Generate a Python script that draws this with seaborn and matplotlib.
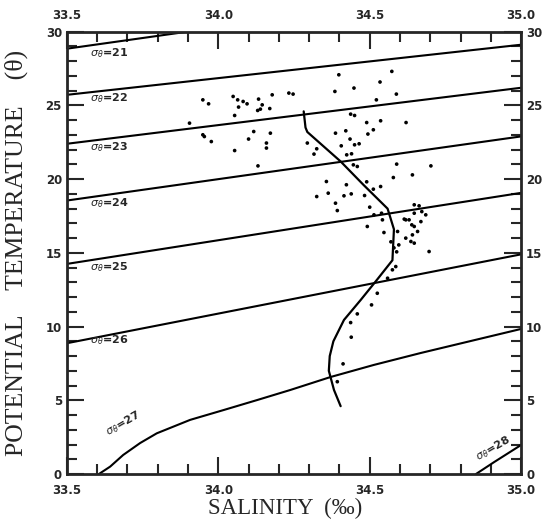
import numpy as np
import pandas as pd
import matplotlib
matplotlib.use("Agg")
import matplotlib.pyplot as plt
import seaborn as sns
from matplotlib.ticker import MultipleLocator

# isopycnals (salinity, potential temperature)
sig21_s = [33.5, 33.897]
sig21_t = [28.85, 30.0]
sig22_s = [33.5, 35.0]
sig22_t = [25.72, 29.12]
sig23_s = [33.5, 35.0]
sig23_t = [22.40, 26.20]
sig24_s = [33.5, 35.0]
sig24_t = [18.55, 22.90]
sig25_s = [33.5, 35.0]
sig25_t = [14.25, 19.07]
sig26_s = [33.5, 35.0]
sig26_t = [8.87, 14.90]
sig27_s = [33.606, 33.643, 33.686, 33.742, 33.797, 33.907, 34.018, 34.129,
           34.238, 34.371, 34.514, 34.669, 35.0]
sig27_t = [0.0, 0.50, 1.29, 2.10, 2.76, 3.67, 4.34, 5.02,
           5.70, 6.58, 7.40, 8.21, 9.84]
sig28_s = [34.851, 34.911, 35.0]
sig28_t = [0.0, 0.81, 1.97]

# mean profile
prof_s = [34.282, 34.288, 34.294, 34.404, 34.48, 34.559, 34.580, 34.575,
          34.525, 34.47, 34.415, 34.38, 34.368, 34.365, 34.382, 34.404]
prof_t = [24.6, 23.5, 23.2, 21.2, 19.6, 18.0, 16.6, 14.5,
          13.2, 11.8, 10.45, 9.0, 8.0, 7.0, 5.7, 4.6]

# station observations
obs_s = [34.398, 34.573, 34.534, 34.385, 34.448, 34.588, 34.522, 33.949, 33.968, 34.049,
         34.064, 34.082, 34.095, 34.067, 34.133, 34.145, 34.139, 34.130, 34.170, 34.178,
         34.233, 34.247, 34.054, 33.905, 33.949, 33.954, 33.977, 34.117, 34.100, 34.172,
         34.159, 34.159, 34.054, 34.131, 34.437, 34.450, 34.490, 34.536, 34.512, 34.620,
         34.387, 34.421, 34.435, 34.450, 34.465, 34.294, 34.325, 34.316, 34.424, 34.440,
         34.459, 34.589, 34.578, 34.536, 34.512, 34.490, 34.357, 34.423, 34.325, 34.363,
         34.415, 34.387, 34.393, 34.439, 34.483, 34.500, 34.539, 34.492, 34.547, 34.619,
         34.514, 34.542, 34.592, 34.570, 34.580, 34.589, 34.596, 34.575, 34.586, 34.559,
         34.647, 34.663, 34.647, 34.672, 34.685, 34.614, 34.630, 34.639, 34.647, 34.669,
         34.658, 34.641, 34.619, 34.636, 34.647, 34.696, 34.641, 34.702, 34.525, 34.506,
         34.459, 34.437, 34.439, 34.412, 34.393, 34.494, 34.406, 34.446]
obs_t = [27.08, 27.31, 26.59, 25.95, 26.18, 25.77, 25.38, 25.38, 25.11, 25.61,
         25.38, 25.27, 25.11, 24.89, 25.43, 25.04, 24.75, 24.66, 24.79, 25.72,
         25.84, 25.77, 24.32, 23.80, 23.01, 22.89, 22.55, 23.23, 22.72, 23.12,
         22.45, 22.11, 21.94, 20.90, 24.41, 24.32, 23.84, 23.96, 23.35, 23.84,
         23.12, 23.28, 22.72, 22.33, 22.40, 22.45, 22.06, 21.70, 21.65, 21.72,
         20.86, 21.02, 20.11, 19.50, 19.32, 19.82, 19.84, 19.62, 18.82, 19.05,
         18.87, 18.37, 17.87, 19.00, 18.89, 18.10, 17.69, 16.79, 16.38, 17.24,
         17.58, 17.24, 16.45, 15.75, 15.34, 15.07, 15.54, 13.85, 14.07, 13.28,
         18.26, 18.19, 17.69, 17.80, 17.58, 17.29, 17.24, 16.90, 16.79, 17.12,
         16.45, 16.22, 16.00, 15.77, 15.66, 15.09, 20.29, 20.90, 12.26, 11.47,
         10.86, 10.27, 9.28, 7.47, 6.26, 23.06, 22.26, 20.97]

sigma_names = [21, 22, 23, 24, 25, 26, 27, 28]
sigma_s = [sig21_s, sig22_s, sig23_s, sig24_s, sig25_s, sig26_s, sig27_s, sig28_s]
sigma_t = [sig21_t, sig22_t, sig23_t, sig24_t, sig25_t, sig26_t, sig27_t, sig28_t]

iso = pd.concat([pd.DataFrame({"S": s, "T": t, "sigma": n})
                 for n, s, t in zip(sigma_names, sigma_s, sigma_t)], ignore_index=True)
prof = pd.DataFrame({"S": prof_s, "T": prof_t})
obs = pd.DataFrame({"S": obs_s, "T": obs_t})

sns.set_style("ticks")
plt.rcParams["font.family"] = ["DejaVu Sans"]

fig = plt.figure(figsize=(5.48, 5.29), dpi=100)
ax = fig.add_axes([0.122, 0.104, 0.829, 0.836])

sns.lineplot(data=iso, x="S", y="T", units="sigma", estimator=None, sort=False,
             color="black", lw=1.5, ax=ax)
sns.lineplot(data=prof, x="S", y="T", estimator=None, sort=False,
             color="black", lw=1.6, ax=ax)
sns.scatterplot(data=obs, x="S", y="T", color="black", s=7, edgecolor="none", ax=ax)

# isopycnal labels
lab_s = [33.576, 33.576, 33.576, 33.576, 33.576, 33.576, 33.63, 34.853]
lab_t = [28.55, 25.50, 22.20, 18.40, 14.05, 9.05, 2.75, 1.05]
lab_rot = [0, 0, 0, 0, 0, 0, 30, 30]
for n, x, y, r in zip(sigma_names, lab_s, lab_t, lab_rot):
    ax.text(x, y, r"$\sigma_\theta$=%d" % n, fontsize=8, fontweight="bold",
            ha="left", va="center", rotation=r, rotation_mode="anchor")

ax.set_xlim(33.5, 35.0)
ax.set_ylim(0, 30)
ax.xaxis.set_major_locator(MultipleLocator(0.5))
ax.xaxis.set_minor_locator(MultipleLocator(0.1))
ax.yaxis.set_major_locator(MultipleLocator(5))
ax.yaxis.set_minor_locator(MultipleLocator(1))
ax.xaxis.set_major_formatter(plt.FormatStrFormatter("%.1f"))
ax.tick_params(which="both", direction="in", top=True, right=True,
               labeltop=True, labelright=True, width=1.5, labelsize=8.5)
ax.tick_params(which="major", length=12)
ax.tick_params(which="minor", length=7)
ax.tick_params(axis="x", which="major", pad=7)
for lab in ax.get_xticklabels() + ax.get_yticklabels():
    lab.set_fontweight("bold")
for sp in ax.spines.values():
    sp.set_linewidth(2)

ax.set_xlabel("SALINITY  (‰)", fontsize=16.5, family="Liberation Serif")
ax.xaxis.set_label_coords(0.48, -0.055)
ax.set_ylabel("POTENTIAL    TEMPERATURE    (θ)", fontsize=18.5, family="Liberation Serif")
ax.yaxis.set_label_coords(-0.085, 0.5)

fig.savefig("out.png", dpi=100)
